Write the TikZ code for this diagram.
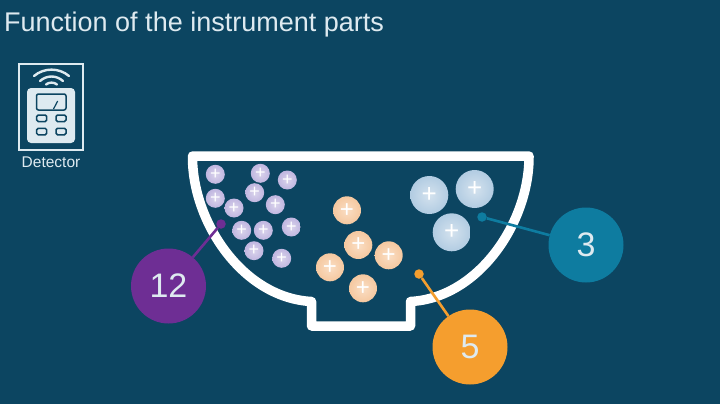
\documentclass[tikz,border=0pt]{standalone}
\usepackage{fontspec}
\setmainfont{Liberation Sans}
\definecolor{bg}{RGB}{12,69,97}
\definecolor{ink}{RGB}{222,234,240}
\definecolor{bowlc}{RGB}{255,255,255}
\definecolor{pur}{RGB}{110,46,148}
\definecolor{blu}{RGB}{14,124,160}
\definecolor{ora}{RGB}{245,158,46}
\definecolor{pin}{RGB}{218,212,236}
\definecolor{pout}{RGB}{192,182,224}
\definecolor{oin}{RGB}{250,222,196}
\definecolor{oout}{RGB}{245,200,160}
\definecolor{bin}{RGB}{212,226,238}
\definecolor{bout}{RGB}{178,204,226}
\tikzset{
  x=1pt,y=-1pt,
  ball/.style={circle,inner sep=0pt,text=white,font=\fontsize{#1}{#1}\selectfont},
  pball/.style={ball=18,minimum size=19pt,inner color=pin,outer color=pout},
  oball/.style={ball=24,minimum size=28pt,inner color=oin,outer color=oout},
  bball/.style={ball=26,minimum size=38pt,inner color=bin,outer color=bout},
  big/.style={circle,inner sep=0pt,minimum size=75pt,text=ink,font=\fontsize{34}{34}\selectfont},
  dot/.style={circle,inner sep=0pt,minimum size=9.5pt},
  lead/.style={line width=2.6pt},
  bowl/.style={draw=bowlc,line width=9.5pt,line join=round},
  wifi/.style={draw=ink,line width=2.4pt,line cap=round},
  btn/.style={draw=bg,line width=1.5pt,rounded corners=1.5pt}
}
\begin{document}
\begin{tikzpicture}
\fill[bg] (0,0) rectangle (720,404);
\useasboundingbox (0,0) rectangle (720,404);
\node[anchor=west,inner sep=0pt,text=ink,font=\fontsize{27}{27}\selectfont] (title) at (4,25) {Function of the instrument parts};
% detector icon
\draw[ink,line width=2pt] (19,64) rectangle (83,150);
\fill[ink,rounded corners=4pt] (27,88) rectangle (75,143);
\draw[btn,line width=1.5pt,rounded corners=2pt] (36.5,94) rectangle (66,110);
\draw[bg,line width=1.2pt] (53.5,109) -- (57.7,101);
\foreach \xa in {36.7,56}{\foreach \ya in {115,128.3}{
  \draw[btn] (\xa,\ya) rectangle ++(10,6.5);}}
\draw[wifi] (34,76) .. controls (44,67.5) and (59,67.5) .. (69,76);
\draw[wifi] (40,81) .. controls (47,75) and (56,75) .. (63,81);
\draw[wifi] (46,84.5) .. controls (49,82) and (54,82) .. (57,84.5);
\node[text=ink,font=\fontsize{15.5}{15.5}\selectfont,inner sep=0pt] (det) at (51,162) {Detector};
% bowl
\draw[bowl] (192.5,156) -- (529,156)
  .. controls (529.5,222) and (478.5,298) .. (410.5,301.5)
  -- (410.5,326) -- (311.5,326) -- (311.5,301.5)
  .. controls (243,298) and (192,222) .. cycle;
% particles
\foreach \n/\px/\py in {a/215.3/174.3,b/260.3/173.3,c/287.3/180,d/215.3/198.3,e/254.7/192.7,f/234/208,g/275.3/204.7,h/291.3/227,i/241.7/230.3,j/263.3/230.3,k/254/250.7,l/281.7/258.3}
  \node[pball] (p\n) at (\px,\py) {+};
\foreach \n/\px/\py in {a/347/210.3,b/358.3/245,c/388.7/255.3,d/330/267.3,e/363/288.3}
  \node[oball] (o\n) at (\px,\py) {+};
\foreach \n/\px/\py in {a/429.3/195,b/474.7/189,c/451.7/232.3}
  \node[bball] (b\n) at (\px,\py) {+};
% callouts
\node[dot,fill=pur] (dp) at (221,224) {};
\node[dot,fill=blu] (db) at (482,217) {};
\node[dot,fill=ora] (do) at (419,274) {};
\node[big,fill=pur] (n12) at (168.5,286) {12};
\node[big,fill=blu] (n3) at (586,245) {3};
\node[big,fill=ora] (n5) at (470,347) {5};
\draw[lead,pur] (dp) -- (n12);
\draw[lead,blu] (db) -- (n3);
\draw[lead,ora] (do) -- (n5);
\end{tikzpicture}
\end{document}
